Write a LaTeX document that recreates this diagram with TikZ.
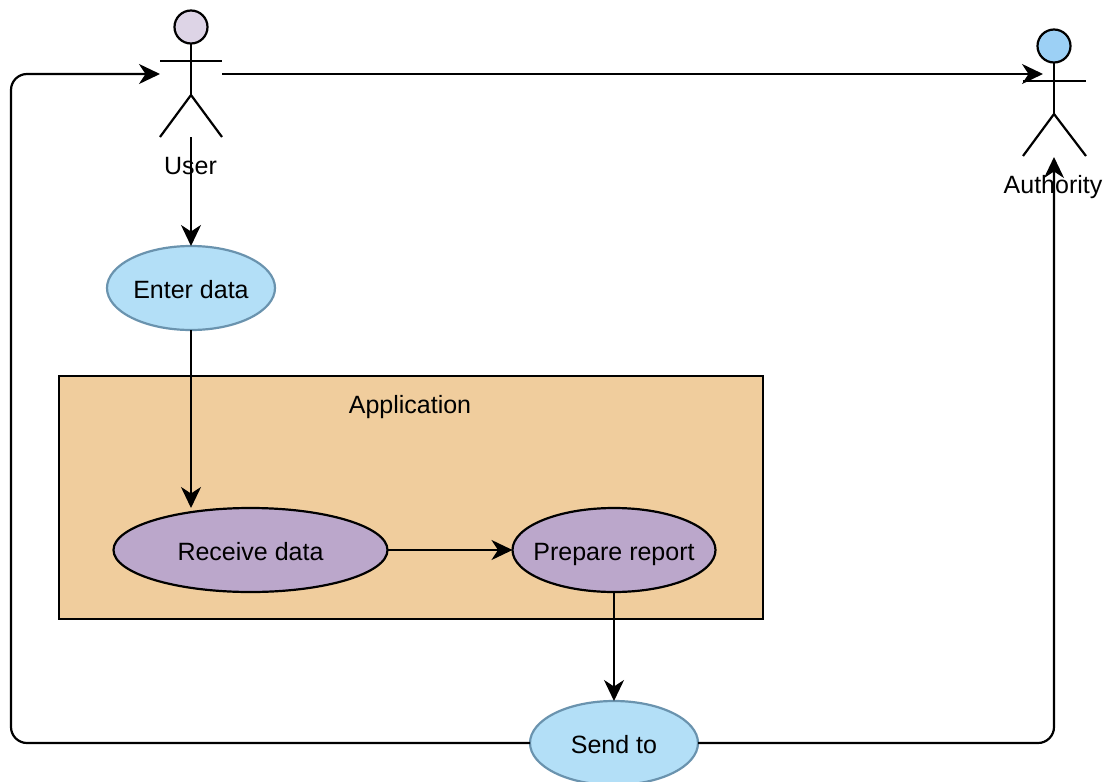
\documentclass[tikz,border=0pt]{standalone}
\usepackage{fontspec}
\setmainfont{Liberation Sans}
\usetikzlibrary{shapes.geometric,arrows.meta}
\definecolor{blueFill}{HTML}{B3DFF7}
\definecolor{blueLine}{HTML}{6A93AE}
\definecolor{purpleFill}{HTML}{BBA7CB}
\definecolor{appFill}{HTML}{F0CD9D}
\definecolor{headOne}{HTML}{DDD4E6}
\definecolor{headTwo}{HTML}{9CD0F5}
\tikzset{
  every node/.style={font=\fontsize{25}{30}\selectfont, text=black},
  usecase/.style={ellipse,draw,line width=2.2pt,inner sep=0pt,outer sep=0pt,minimum height=84pt,
    text height=24pt,text depth=4pt},
  bluecase/.style={usecase,draw=blueLine,fill=blueFill,minimum width=168pt},
  purplecase/.style={usecase,draw=black,fill=purpleFill},
  head/.style={circle,draw=black,line width=2.2pt,inner sep=0pt,outer sep=0pt,minimum size=33pt},
  limb/.style={line width=2.2pt,draw=black},
  conn/.style={line width=2.2pt,draw=black,rounded corners=16pt,
    -{Stealth[length=21pt,width=20pt,inset=6.5pt]}},
  plainlabel/.style={inner sep=0pt,outer sep=0pt,text height=24pt,text depth=4pt}
}
\begin{document}
\begin{tikzpicture}[x=1pt,y=-1pt]
\useasboundingbox (0,0) rectangle (1109,782);
\clip (0,0) rectangle (1109,782);
% application box
\node[draw=black,line width=2.2pt,fill=appFill,minimum width=704pt,minimum height=243pt,inner sep=0pt,outer sep=0pt] (app) at (411,497.5) {};
\node[plainlabel] (applabel) at (410,403.5) {Application};
% use cases
\node[bluecase] (enter) at (191,288) {Enter data};
\node[purplecase,minimum width=274pt] (receive) at (250.5,550) {Receive data};
\node[purplecase,minimum width=203pt,inner xsep=-15pt] (prepare) at (614,550) {Prepare report};
\node[bluecase] (send) at (614,743) {Send to};
% user actor
\node[head,fill=headOne] (userhead) at (191,27) {};
\coordinate (userhip) at (191,95);
\coordinate (userfoot) at (191,137);
\coordinate (userleft) at (160,74);
\coordinate (userright) at (222,74);
\draw[limb] (userhead.south) -- (userhip);
\draw[limb] (160,61) -- (222,61);
\draw[limb] (160,137) -- (userhip) -- (222,137);
\node[plainlabel] (userlabel) at (190.5,164.5) {User};
% authority actor
\node[head,fill=headTwo] (authhead) at (1054,46) {};
\coordinate (authhip) at (1054,114);
\coordinate (authin) at (1043,74);
\coordinate (authfoot) at (1054,157);
\draw[limb] (authhead.south) -- (authhip);
\draw[limb] (1023,81) -- (1086,81);
\draw[limb] (1023,156) -- (authhip) -- (1086,156);
\node[plainlabel] (authlabel) at (1053,183) {Authority};
% connectors
\draw[conn] (userfoot) -- (enter.north);
\draw[conn] (enter.south) -- (191,508);
\draw[conn] (receive.east) -- (prepare.west);
\draw[conn] (prepare.south) -- (send.north);
\draw[conn] (send.west) -- (11,743) -- (11,74) -- (userleft);
\draw[conn] (userright) -- (authin);
\draw[conn] (send.east) -- (1054,743) -- (authfoot);
\end{tikzpicture}
\end{document}
